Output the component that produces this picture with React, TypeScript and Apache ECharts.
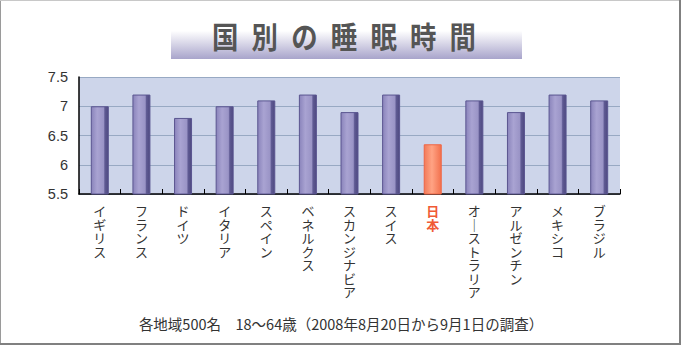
import React, { useEffect, useRef } from "react";
import * as echarts from "echarts";

const categories = [
  "イギリス", "フランス", "ドイツ", "イタリア", "スペイン", "ベネルクス",
  "スカンジナビア", "スイス", "日本", "オーストラリア", "アルゼンチン", "メキシコ", "ブラジル",
];
const sleepHours = [7.0, 7.2, 6.8, 7.0, 7.1, 7.2, 6.9, 7.2, 6.35, 7.1, 6.9, 7.2, 7.1];
const highlight = "日本";
const yTicks = { min: 5.5, max: 7.5, interval: 0.5 };
const titleText = "国別の睡眠時間";
const footerText = "各地域500名　18～64歳（2008年8月20日から9月1日の調査）";

const JP = '"Noto Sans CJK JP", "Noto Sans", sans-serif';
const NUM = '"Liberation Sans", Arial, sans-serif';

const purple = new echarts.graphic.LinearGradient(0, 0, 1, 0, [
  { offset: 0, color: "#8a84bb" },
  { offset: 0.35, color: "#a9a3d2" },
  { offset: 0.72, color: "#9a94c6" },
  { offset: 0.8, color: "#5f5a93" },
  { offset: 1, color: "#4e4980" },
]);
const orange = new echarts.graphic.LinearGradient(0, 0, 1, 0, [
  { offset: 0, color: "#f27a58" },
  { offset: 0.45, color: "#ffa384" },
  { offset: 1, color: "#f2714e" },
]);

export default function App() {
  const ref = useRef<HTMLDivElement>(null);
  useEffect(() => {
    document.body.style.margin = "0";
    const chart = echarts.init(ref.current!, undefined, { renderer: "svg" });
    chart.setOption({
      animation: false,
      backgroundColor: "#ffffff",
      grid: {
        left: 79, right: 61, top: 77, bottom: 151,
        show: true, backgroundColor: "#cdd5ea", borderWidth: 0,
      },
      xAxis: {
        type: "category",
        data: categories,
        axisLine: { lineStyle: { color: "#000", width: 1.5 } },
        axisTick: { show: true, inside: true, length: 5, lineStyle: { color: "#000" } },
        axisLabel: {
          interval: 0,
          margin: 10,
          verticalAlign: "top",
          fontFamily: JP,
          fontSize: 13,
          lineHeight: 13.5,
          color: "#333",
          formatter: (v: string) => {
            const s = v.split("").map((c) => (c === "ー" ? "｜" : c)).join("\n");
            return v === highlight ? "{h|" + s + "}" : s;
          },
          rich: {
            h: { color: "#f05a36", fontWeight: "bold", fontSize: 13, lineHeight: 13.5, fontFamily: JP },
          },
        },
      },
      yAxis: {
        type: "value",
        min: yTicks.min,
        max: yTicks.max,
        interval: yTicks.interval,
        axisLine: { show: true, lineStyle: { color: "#000", width: 1.5 } },
        axisTick: { show: false },
        axisLabel: {
          fontFamily: NUM, fontSize: 14.5, color: "#333", margin: 11,
          formatter: (v: number) => String(v),
        },
        splitLine: { lineStyle: { color: "#98a9c3", width: 1 } },
      },
      series: [
        {
          type: "bar",
          barWidth: 18,
          data: sleepHours.map((v, i) => ({
            value: v,
            itemStyle:
              categories[i] === highlight
                ? { color: orange, borderColor: "#f06543", borderWidth: 1 }
                : { color: purple, borderColor: "#5a5590", borderWidth: 1 },
          })),
        },
      ],
      graphic: [
        {
          type: "rect",
          shape: { x: 171, y: 12, width: 351, height: 47 },
          style: {
            fill: new echarts.graphic.LinearGradient(0, 0, 0, 1, [
              { offset: 0, color: "#ffffff" },
              { offset: 0.4, color: "#ffffff" },
              { offset: 1, color: "#a8a4cb" },
            ]),
          },
          silent: true,
        },
        {
          type: "text",
          x: 344,
          y: 35,
          scaleX: 0.88,
          style: {
            text: titleText.split("").join("\u2002"),
            fontFamily: JP,
            fontSize: 30,
            fontWeight: "bold",
            fill: "#555555",
            align: "center",
            verticalAlign: "middle",
          },
        },
        {
          type: "text",
          x: 341,
          y: 323,
          style: {
            text: footerText,
            fontFamily: JP,
            fontSize: 14.5,
            fill: "#333",
            align: "center",
            verticalAlign: "middle",
          },
        },
        { type: "line", shape: { x1: 0.5, y1: 0, x2: 0.5, y2: 345 }, style: { stroke: "#9a9a9a", lineWidth: 1 } },
        { type: "line", shape: { x1: 0, y1: 0.5, x2: 681, y2: 0.5 }, style: { stroke: "#c8c8c8", lineWidth: 1 } },
        { type: "line", shape: { x1: 680, y1: 0, x2: 680, y2: 345 }, style: { stroke: "#808080", lineWidth: 2 } },
        { type: "line", shape: { x1: 0, y1: 344, x2: 681, y2: 344 }, style: { stroke: "#808080", lineWidth: 2 } },
      ],
    });
    return () => chart.dispose();
  }, []);
  return <div ref={ref} style={{ width: 681, height: 345 }} />;
}
